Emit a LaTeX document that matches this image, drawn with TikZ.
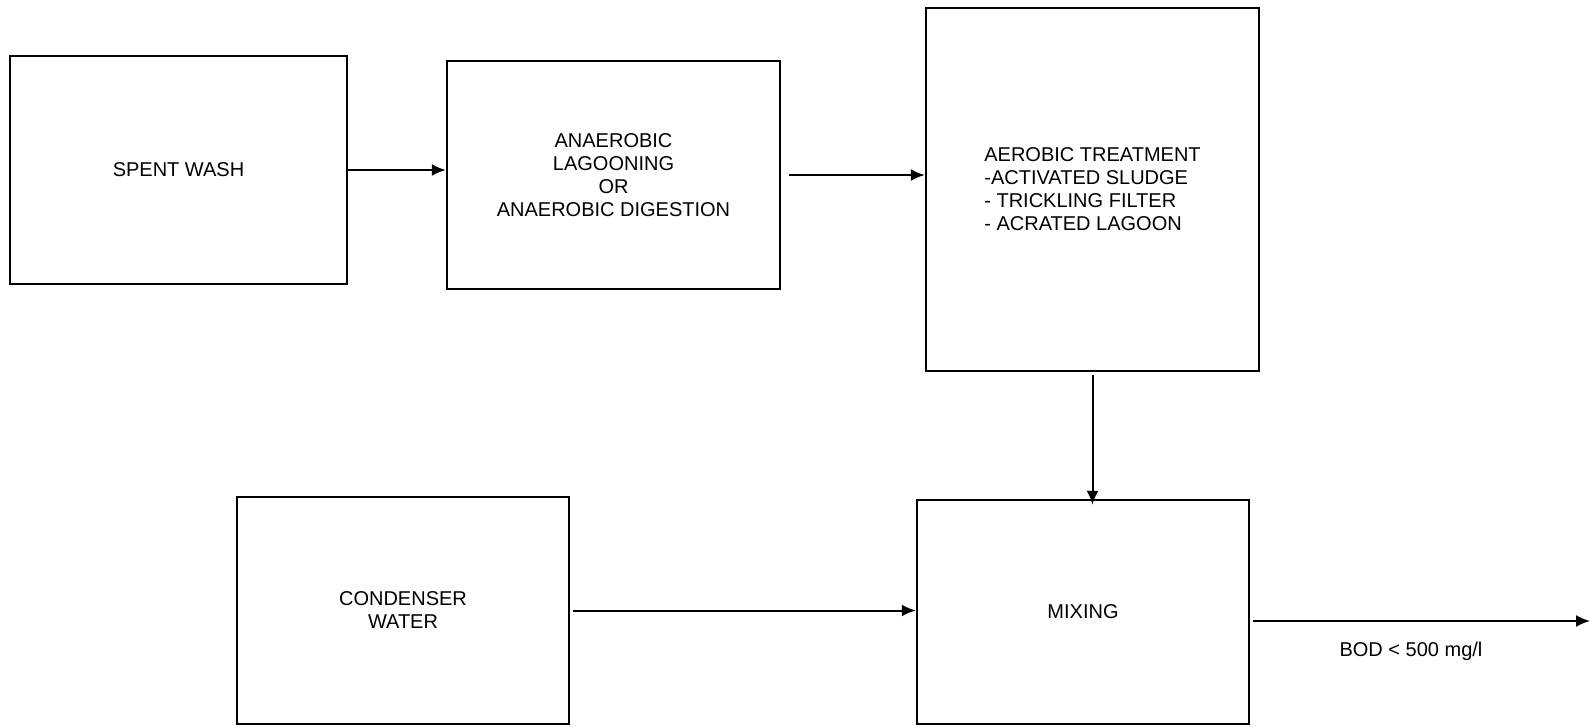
\documentclass[tikz,border=0pt]{standalone}
\usepackage{fontspec}
\setmainfont{Liberation Sans}
\usepackage{tikz}
\usetikzlibrary{shapes}
\usetikzlibrary{arrows.meta}
\pgfdeclarelayer{edgelayer}
\pgfdeclarelayer{nodelayer}
\pgfsetlayers{edgelayer,nodelayer,main}
\tikzstyle{none}=[inner sep=0pt]
\tikzstyle{box}=[rectangle, draw, line width=1.2pt, inner sep=0pt, font=\fontsize{10pt}{11.5pt}\selectfont]
\tikzstyle{flow}=[line width=1pt, -{Latex[length=7pt,width=6pt]}]

\begin{document}
\begin{tikzpicture}[x=0.5pt, y=-0.5pt]
	\useasboundingbox (0,0) rectangle (1592,727);
	\begin{pgfonlayer}{nodelayer}
		\node [style=box, minimum width=168.5pt, minimum height=114pt, align=center] (0) at (178.5, 170) {SPENT WASH};
		\node [style=box, minimum width=166.5pt, minimum height=114pt, align=center] (1) at (613.5, 175) {ANAEROBIC\\LAGOONING\\OR\\ANAEROBIC DIGESTION};
		\node [style=box, minimum width=166.5pt, minimum height=181.5pt, align=left] (2) at (1092.5, 189.5) {AEROBIC TREATMENT\\-ACTIVATED SLUDGE\\- TRICKLING FILTER\\- ACRATED LAGOON};
		\node [style=box, minimum width=166pt, minimum height=113.5pt, align=center] (3) at (403, 610.5) {CONDENSER\\WATER};
		\node [style=box, minimum width=166pt, minimum height=112pt, align=center] (4) at (1083, 612) {MIXING};
		\node [style=none, font=\fontsize{10pt}{11.5pt}\selectfont] (5) at (1411, 651) {BOD < 500 mg/l};
		\coordinate (6) at (1590, 621);
	\end{pgfonlayer}
	\begin{pgfonlayer}{edgelayer}
		\draw [style=flow] (0.east) to (0.east -| 1.west);
		\draw [style=flow] ([xshift=4pt]1.east) to (1.east -| 2.west);
		\draw [style=flow] ([yshift=-1.5pt]2.south) to ([yshift=-3pt]2.south |- 4.north);
		\draw [style=flow] ([xshift=1.5pt]3.east) to (3.east -| 4.west);
		\draw [style=flow] ([xshift=1.5pt]4.east |- 6) to (6);
	\end{pgfonlayer}
\end{tikzpicture}
\end{document}
